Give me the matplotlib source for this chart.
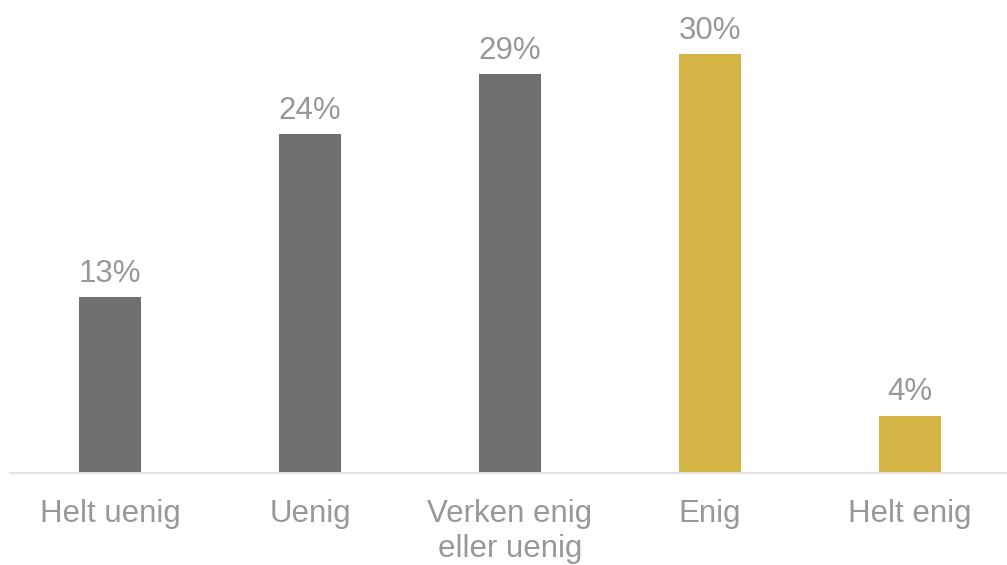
import matplotlib
matplotlib.use("Agg")
import matplotlib.pyplot as plt
import numpy as np

plt.rcParams['font.family'] = ['Liberation Sans', 'DejaVu Sans']

categories = ["Helt uenig", "Uenig", "Verken enig\neller uenig", "Enig", "Helt enig"]
values = [12.6, 24.3, 28.6, 30.0, 4.1]
bar_colors = ["#6f6f6f", "#6f6f6f", "#6f6f6f", "#d5b446", "#d5b446"]

fig = plt.figure(figsize=(10.07, 5.65), dpi=100)
ax = fig.add_axes([10 / 1007, 92 / 565, 997 / 1007, 473 / 565])

x = np.arange(len(categories))
rects = ax.bar(x, values, width=0.31, color=bar_colors)
ax.bar_label(rects, labels=[f"{v:.0f}%" for v in values], padding=6,
             fontsize=22.5, color="#989898")

ax.set_xlim(-0.5, 4.485)
ax.set_ylim(0, 33.9)
ax.set_xticks(x, categories)
ax.tick_params(axis='x', length=0, pad=19, labelsize=22.5, labelcolor="#989898")
ax.set_yticks([])
for side in ("left", "right", "top"):
    ax.spines[side].set_visible(False)
ax.spines["bottom"].set_color("#e3e3e3")
ax.spines["bottom"].set_linewidth(1.5)
for lbl in ax.get_xticklabels():
    lbl.set_linespacing(1.2)

fig.savefig("out.png", dpi=100)
